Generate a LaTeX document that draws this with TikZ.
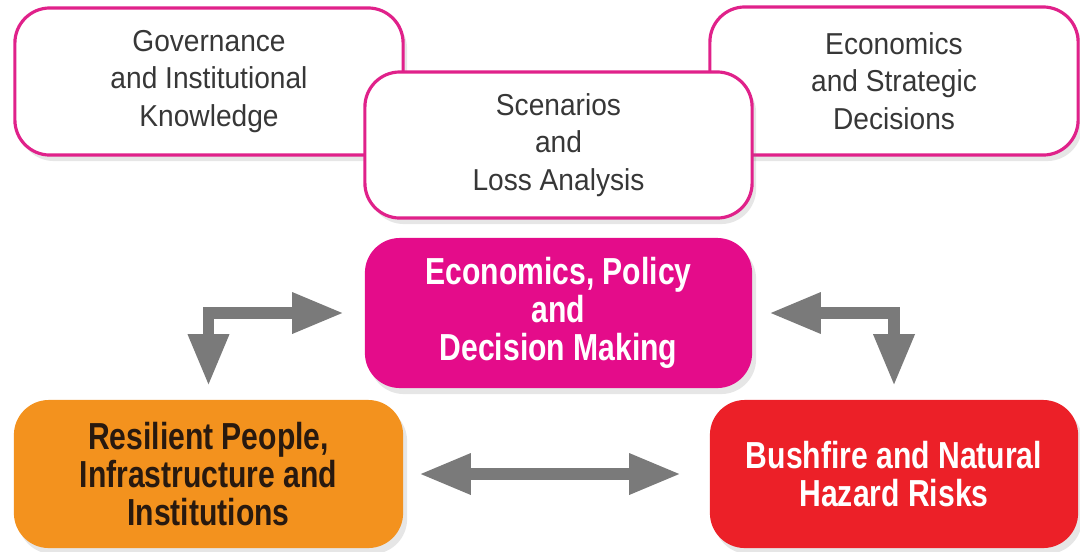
\documentclass[tikz,border=0pt]{standalone}
\usepackage{fontspec}
\setmainfont{Liberation Sans}[FakeStretch=0.93]
\newfontfamily\condbf{Liberation Sans}[FakeStretch=0.8]
\usetikzlibrary{arrows.meta,shadows}
\definecolor{pinkline}{RGB}{224,33,138}
\definecolor{pinkfill}{RGB}{228,12,138}
\definecolor{orangefill}{RGB}{243,146,30}
\definecolor{redfill}{RGB}{236,32,40}
\definecolor{arrowgray}{RGB}{122,122,122}
\definecolor{textgray}{RGB}{55,55,55}
\definecolor{darktext}{RGB}{40,25,15}
\begin{document}
\begin{tikzpicture}[x=0.01cm,y=-0.01cm]
      \tikzstyle{box}=[rectangle,rounded corners=0.35cm,align=center,
        drop shadow={opacity=0.2,shadow xshift=0.04cm,shadow yshift=-0.06cm}]
      \tikzstyle{topic}=[box,draw=pinkline,line width=0.9pt,fill=white,text=textgray,
        font=\fontsize{8.6}{10.7}\selectfont]
      \tikzstyle{core}=[box,font=\condbf\bfseries\fontsize{10.7}{10.8}\selectfont]
      \tikzstyle{garrow}=[draw=arrowgray,line width=3.4pt,line join=miter,
        {Triangle[length=0.52cm,width=0.38cm]}-{Triangle[length=0.52cm,width=0.38cm]}]
      \useasboundingbox (0,0) rectangle (1080,551);
      % upper boxes
      \node[topic,minimum width=3.88cm,minimum height=1.47cm] at (209,81.5) (gov)
        {Governance\\and Institutional\\Knowledge};
      \node[topic,minimum width=3.68cm,minimum height=1.48cm] at (894,81) (strat)
        {Economics\\and Strategic\\Decisions};
      \node[topic,minimum width=3.87cm,minimum height=1.46cm] at (558.5,145) (scen)
        {Scenarios\\and\\Loss Analysis};
      % coloured boxes
      \node[core,fill=pinkfill,text=white,minimum width=3.87cm,minimum height=1.5cm]
        at (558.5,313) (epdm) {Economics, Policy\\and\\Decision Making};
      \node[core,fill=orangefill,text=darktext,minimum width=3.89cm,minimum height=1.48cm]
        at (208.5,474) (res) {Resilient People,\\Infrastructure and\\Institutions};
      \node[core,fill=redfill,text=white,minimum width=3.68cm,minimum height=1.48cm]
        at (894,474) (bush) {Bushfire and Natural\\Hazard Risks};
      % arrows
      \draw[garrow,shorten <=0.13cm,shorten >=0.2cm] (res.north) |- (epdm.west);
      \draw[garrow,shorten <=0.16cm,shorten >=0.13cm] (epdm.east) -| (bush.north);
      \draw[garrow,shorten <=0.15cm,shorten >=0.28cm] (res.east) -- (bush.west);
    \end{tikzpicture}
\end{document}
